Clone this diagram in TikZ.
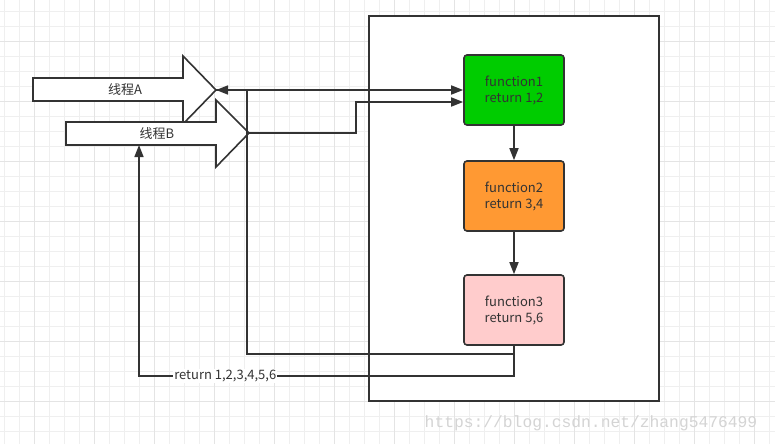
\documentclass[tikz,border=0pt]{standalone}
\usepackage{fontspec}
\newfontfamily\cjk{Noto Sans CJK SC}
\newfontfamily\wmfont{Liberation Mono}
\usetikzlibrary{arrows.meta}
\definecolor{ink}{HTML}{333333}
\definecolor{fgreen}{HTML}{00CC00}
\definecolor{forange}{HTML}{FF9933}
\definecolor{fpink}{HTML}{FFCCCC}
\definecolor{gridminor}{HTML}{EFEFEF}
\definecolor{gridmajor}{HTML}{E4E4E4}
\definecolor{wmgrey}{HTML}{D4D4D4}
\tikzset{
  funcbox/.style={draw=ink, line width=1.6pt, rounded corners=3pt, minimum width=100pt, minimum height=70pt, align=center, text=ink, font=\cjk\fontsize{13}{16}\selectfont},
  blockarrow/.style={draw=ink, line width=1.6pt, fill=white},
  conn/.style={draw=ink, line width=1.6pt},
  tip/.style={-{Triangle[length=12pt,width=9pt]}},
  lbl/.style={text=ink, font=\cjk\fontsize{13}{14}\selectfont, inner sep=1pt},
}
\begin{document}
\begin{tikzpicture}[x=1pt,y=-1pt]
\useasboundingbox (0,0) rectangle (775,444);
\fill[white] (0,0) rectangle (775,444);
% grid
\foreach \x in {4.3,19.3,...,775} \draw[gridminor, line width=0.8pt] (\x,0) -- (\x,444);
\foreach \y in {11.7,26.7,...,444} \draw[gridminor, line width=0.8pt] (0,\y) -- (775,\y);
\foreach \x in {34.3,94.3,...,775} \draw[gridmajor, line width=0.8pt] (\x,0) -- (\x,444);
\foreach \y in {41.7,101.7,...,444} \draw[gridmajor, line width=0.8pt] (0,\y) -- (775,\y);
% container
\node[draw=ink, line width=1.6pt, fill=white, minimum width=290pt, minimum height=385pt, inner sep=0pt] (frame) at (514,208.5) {};
% function boxes
\node[funcbox, fill=fgreen] (f1) at (514,90) {function1\\return 1,2};
\node[funcbox, fill=forange] (f2) at (514,196) {function2\\return 3,4};
\node[funcbox, fill=fpink] (f3) at (514,310) {function3\\return 5,6};
% block arrows
\draw[blockarrow] (33,78) -- (183,78) -- (183,56) -- (216,90) -- (183,124) -- (183,101) -- (33,101) -- cycle;
\draw[blockarrow] (66,122) -- (216,122) -- (216,100) -- (249,133) -- (216,167) -- (216,145) -- (66,145) -- cycle;
\node[lbl] (la) at (125,90) {线程A};
\node[lbl] (lb) at (157,133.5) {线程B};
\coordinate (atip) at (216,90);
\coordinate (btip) at (249,133);
\coordinate (bbot) at (139,145);
\coordinate (j1) at (247,354);
\coordinate (j2) at (139,376);
\coordinate (k) at (356,102);
% connectors
\draw[conn, tip] (atip) -- (f1.west);
\draw[conn, tip] (f3.south) |- (j1) |- (atip);
\draw[conn, tip] (btip) -| (k) -- (k -| f1.west);
\draw[conn, tip] (f3.south) |- (j2) node[lbl, fill=white, pos=0.885] (ret) {return 1,2,3,4,5,6} -- (bbot);
\draw[conn, tip] (f1.south) -- (f2.north);
\draw[conn, tip] (f2.south) -- (f3.north);
% watermark
\node[text=wmgrey, font=\wmfont\fontsize{16.3}{18}\selectfont, inner sep=0pt] (wm) at (591,423) {https://blog.csdn.net/zhang5476499};
\end{tikzpicture}
\end{document}
